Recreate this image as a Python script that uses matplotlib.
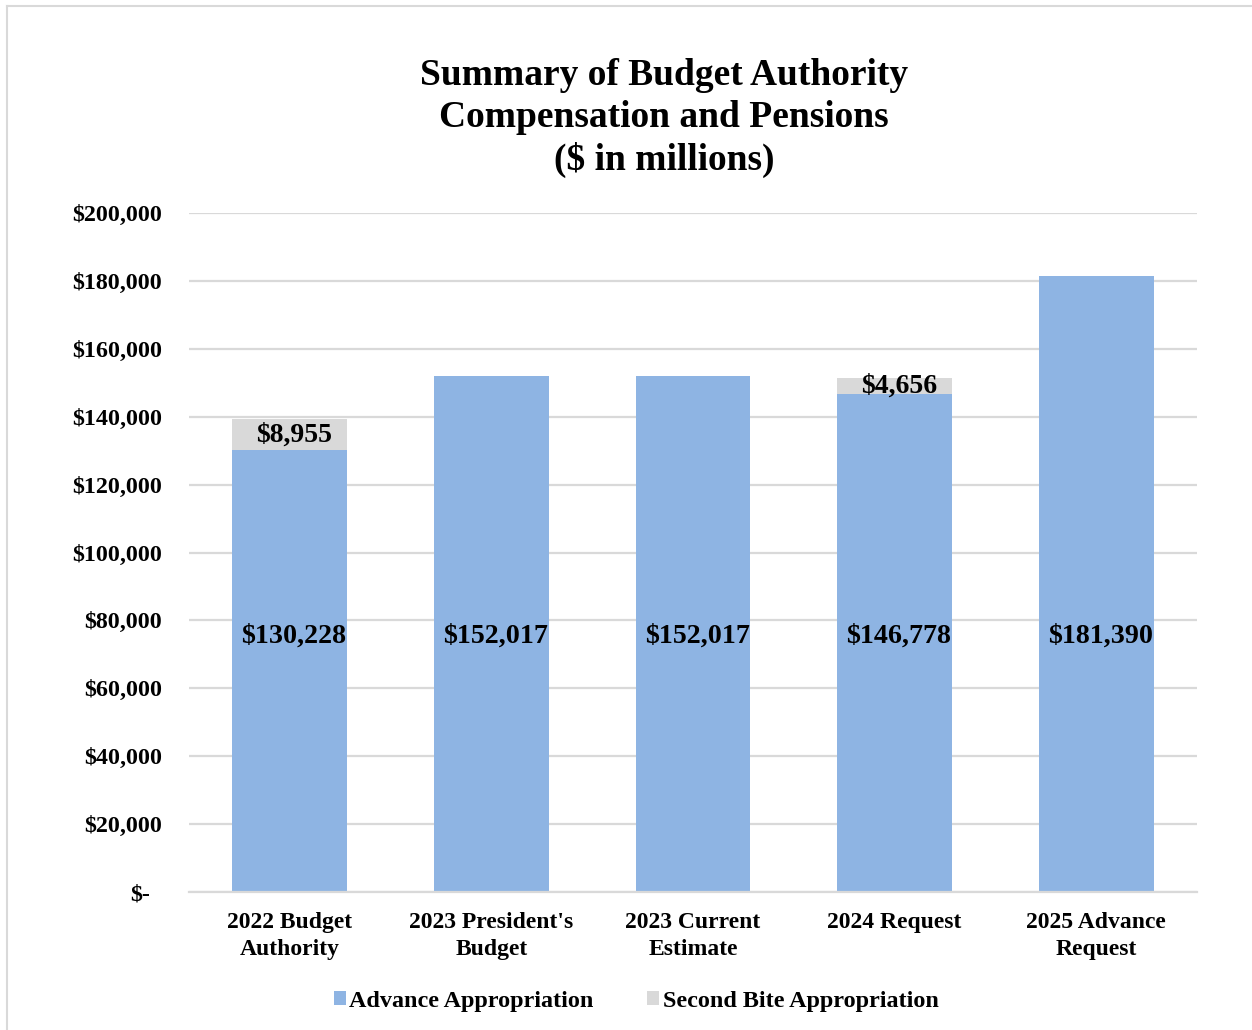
import matplotlib
matplotlib.use("Agg")
import matplotlib.pyplot as plt
from matplotlib.lines import Line2D
from matplotlib.patches import Patch
from matplotlib.transforms import ScaledTranslation
import numpy as np

categories = ["2022 Budget\nAuthority", "2023 President's\nBudget", "2023 Current\nEstimate",
              "2024 Request", "2025 Advance\nRequest"]
advance = [130228, 152017, 152017, 146778, 181390]
second_bite = [8955, 0, 0, 4656, 0]
y_ticks = [0, 20000, 40000, 60000, 80000, 100000, 120000, 140000, 160000, 180000, 200000]

BLUE = "#8EB4E3"
GRAY = "#D9D9D9"
FONT = "Liberation Serif"

plt.rcParams["font.family"] = FONT
plt.rcParams["font.weight"] = "bold"

W, H = 1252, 1030
fig = plt.figure(figsize=(W / 100, H / 100), dpi=100)
ax = fig.add_axes([189 / W, 1 - 892 / H, (1197 - 189) / W, (892 - 213) / H])

x = np.arange(len(categories))
ax.bar(x, advance, width=0.57, color=BLUE, zorder=2)
ax.bar(x, second_bite, width=0.57, bottom=advance, color=GRAY, zorder=2)

ax.set_xlim(-0.5, len(categories) - 0.5)
ax.set_ylim(0, 200000)
ax.set_yticks(y_ticks)
ax.set_yticklabels(["$-" if v == 0 else f"${v:,}" for v in y_ticks])
ax.yaxis.grid(True, color=GRAY, linewidth=1.6, zorder=0)
ax.set_axisbelow(True)
for s in ["top", "right", "left"]:
    ax.spines[s].set_visible(False)
ax.spines["bottom"].set_color(GRAY)
ax.spines["bottom"].set_linewidth(1.6)
ax.tick_params(axis="y", length=0, pad=19.5, labelsize=17.3)
ax.tick_params(axis="x", length=0, pad=14.5, labelsize=17)
ax.set_xticks(x)
ax.set_xticklabels(categories, linespacing=1.36)
for lbl in ax.get_yticklabels() + ax.get_xticklabels():
    lbl.set_fontweight("bold")
# the zero label sits a little left of the others
zero_lbl = ax.get_yticklabels()[0]
zero_lbl.set_transform(zero_lbl.get_transform() + ScaledTranslation(-12 / 100, 0, fig.dpi_scale_trans))

# value labels, nudged slightly right of bar centres
LABEL_DX = 0.02
for xi, v in zip(x, advance):
    ax.text(xi + LABEL_DX, 75500, f"${v:,}", ha="center", va="center", fontsize=20.2, fontweight="bold")
for xi, a, s in zip(x, advance, second_bite):
    if s:
        ax.text(xi + LABEL_DX, a + s / 2, f"${s:,}", ha="center", va="center", fontsize=20, fontweight="bold")

fig.text(664 / W, 1 - 118 / H, "Summary of Budget Authority\nCompensation and Pensions\n($ in millions)",
         ha="center", va="center", fontsize=27, fontweight="bold", linespacing=1.25)

handles = [Patch(facecolor=BLUE, label="Advance Appropriation"),
           Patch(facecolor=GRAY, label="Second Bite Appropriation")]
fig.legend(handles=handles, loc="center", bbox_to_anchor=(636 / W, 1 - 1001 / H), ncol=2,
           frameon=False, prop={"family": FONT, "weight": "bold", "size": 17.4},
           handlelength=0.5, handleheight=0.5, handletextpad=0.15, columnspacing=2.2)

# chart area border (top and left edges)
fig.add_artist(Line2D([7 / W, 1], [1 - 6 / H, 1 - 6 / H], transform=fig.transFigure, color=GRAY, linewidth=1.5))
fig.add_artist(Line2D([7 / W, 7 / W], [0, 1 - 6 / H], transform=fig.transFigure, color=GRAY, linewidth=1.5))

fig.savefig("out.png", dpi=100)
